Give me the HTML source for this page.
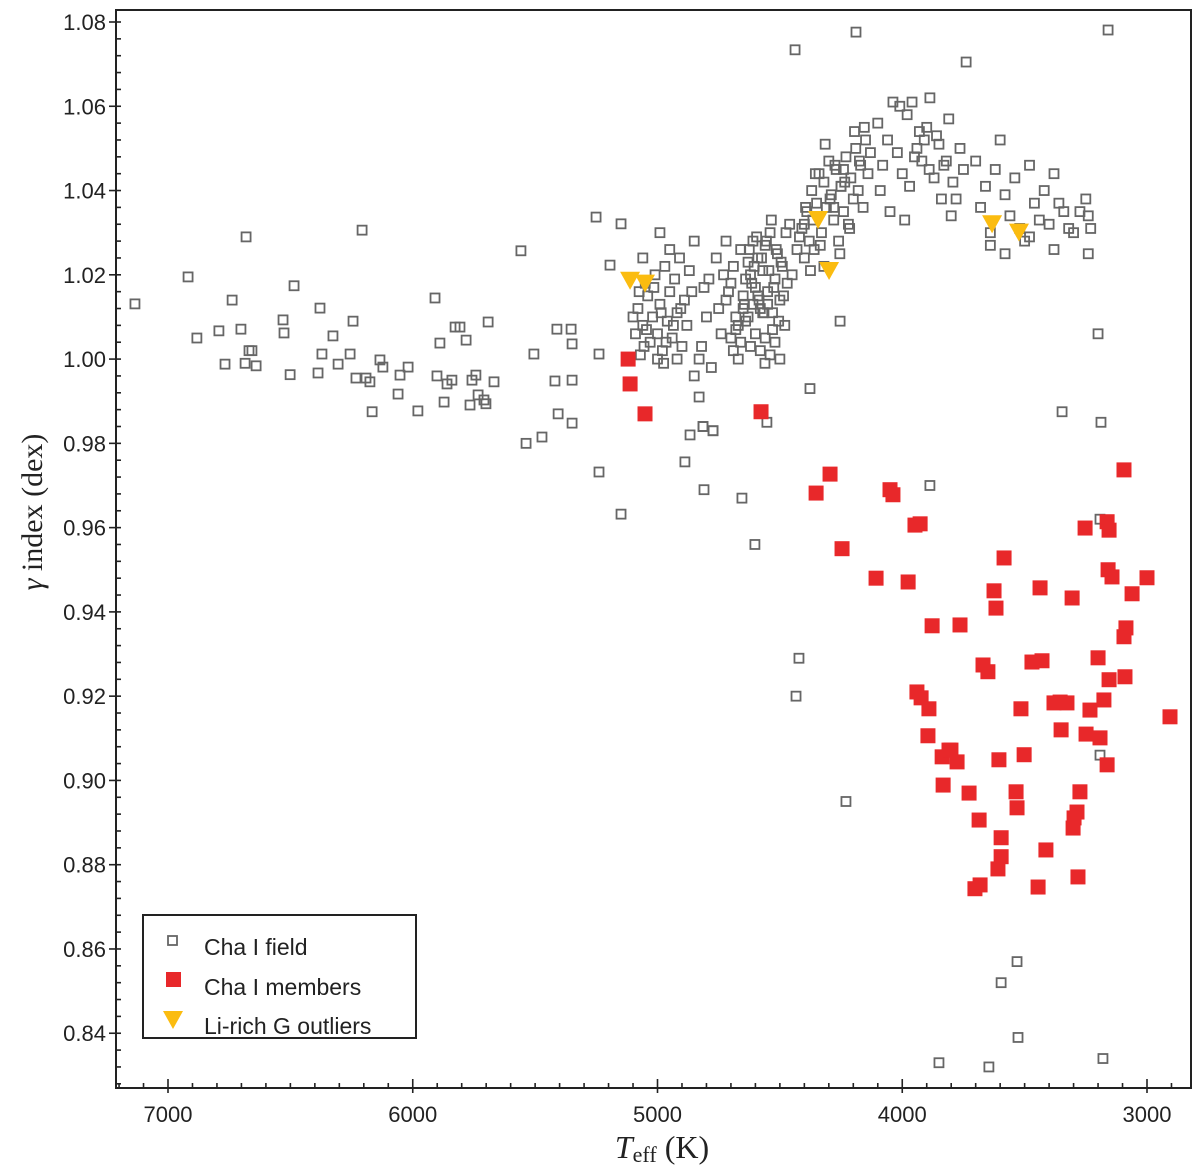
<!DOCTYPE html>
<html><head><meta charset="utf-8">
<style>
html,body{margin:0;padding:0;background:#fff;}
svg{display:block;}
text{font-family:"Liberation Sans",sans-serif;}
</style></head>
<body>
<svg id="chart" width="1200" height="1172" viewBox="0 0 1200 1172"></svg>
<script>
// ---- data ----
const fieldTeff = [7135,6918,6882,6792,6738,6767,6702,6685,6681,6669,6657,6640,6530,6526,6501,6485,6387,6379,6371,6326,6305,6256,6244,6232,6207,6191,6166,6175,6134,6122,6060,6052,6019,5979,5909,5901,5889,5872,5860,5840,5827,5807,5782,5766,5758,5742,5733,5709,5692,5701,5668,5558,5537,5505,5472,5419,5411,5406,5353,5349,5349,5349,5239,5251,5239,5149,5149,5194,
5080,5060,5040,5030,5020,5000,4990,4980,4960,4950,4940,4920,4900,4890,5070,5050,5010,4970,4930,4910,4880,4860,5090,5000,4975,4920,4850,4870,4950,4990,5060,5100,5045,5015,4985,4965,4935,4905,5075,5055,
4800,4820,4830,4780,4850,4830,4814,4773,4720,4700,4690,4680,4660,4650,4640,4630,4620,4610,4600,4590,4580,4570,4560,4550,4540,4530,4520,4510,4500,4490,4480,4470,4460,4750,4740,4730,4710,4670,4645,4625,4615,4605,4595,4585,4575,4565,4555,4545,4535,4525,4515,4505,4495,4485,4475,4700,4680,4660,4640,4620,4600,4580,4560,4540,4520,4500,4650,4630,4610,4590,4570,4550,4530,4760,4790,4810,4720,4690,4670,
4450,4430,4410,4400,4390,4380,4370,4365,4350,4340,4330,4320,4310,4300,4290,4280,4270,4260,4250,4240,4230,4220,4210,4200,4190,4180,4170,4160,4150,4140,4130,4420,4395,4375,4355,4335,4315,4295,4275,4255,4235,4215,4195,4175,4155,4400,4360,4320,4280,4240,
4100,4080,4060,4038,4020,4000,3980,3960,3940,3920,3900,3887,3870,3850,3830,3810,3793,3780,3764,3750,4090,4050,4010,3970,3930,3890,3860,3840,3820,3800,3990,3950,3910,
3700,3680,3660,3640,3620,3600,3580,3560,3540,3520,3500,3480,3460,3440,3420,3400,3380,3360,3340,3320,3300,3274,3250,3240,3230,3640,3580,3480,3380,
4438,4189,3739,3159,3240,3200,3347,3188,3192,3192,3887,4602,4655,4810,4888,4867,4814,4773,4422,4434,4230,3531,3596,3527,3850,3646,3180,4553,4377,4254,4561,4250];
const fieldGamma = [1.0131,1.0195,1.005,1.0067,1.014,0.9988,1.0071,0.999,1.029,1.002,1.002,0.9984,1.0093,1.0062,0.9963,1.0174,0.9967,1.0121,1.0012,1.0055,0.9988,1.0012,1.009,0.9955,1.0306,0.9955,0.9875,0.9946,0.9998,0.9981,0.9917,0.9962,0.9981,0.9877,1.0145,0.996,1.0038,0.9898,0.9941,0.995,1.0076,1.0076,1.0045,0.9891,0.995,0.9962,0.9915,0.9903,1.0088,0.9894,0.9946,1.0257,0.98,1.0012,0.9815,0.9948,1.0071,0.987,1.0071,0.995,1.0036,0.9848,0.9732,1.0337,1.0012,0.9632,1.0321,1.0223,
1.012,1.008,1.015,1.004,1.010,1.006,1.013,1.002,1.009,1.016,1.005,1.011,1.003,1.014,1.001,1.018,1.020,1.022,1.019,1.024,1.008,1.016,1.006,1.000,0.999,1.000,1.028,1.021,1.026,1.030,1.024,1.010,1.007,1.017,1.011,1.004,1.008,1.012,1.016,1.003,
1.010,1.003,1.000,0.998,0.996,0.991,0.984,0.983,1.014,1.018,1.022,1.010,1.026,1.015,1.019,1.023,1.020,1.028,1.017,1.024,1.012,1.021,1.027,1.016,1.030,1.011,1.019,1.025,1.014,1.022,1.008,1.018,1.032,1.012,1.006,1.020,1.016,1.008,1.013,1.026,1.018,1.022,1.029,1.014,1.024,1.011,1.028,1.021,1.033,1.017,1.026,1.009,1.023,1.015,1.030,1.005,1.007,1.004,1.009,1.003,1.006,1.002,1.005,1.001,1.004,1.000,1.012,1.010,1.013,1.015,1.011,1.013,1.007,1.024,1.019,1.017,1.028,1.002,1.000,
1.020,1.026,1.031,1.024,1.035,1.028,1.040,1.033,1.037,1.044,1.030,1.042,1.036,1.047,1.039,1.033,1.045,1.028,1.041,1.035,1.048,1.032,1.043,1.038,1.050,1.040,1.046,1.036,1.052,1.044,1.049,1.029,1.036,1.021,1.044,1.027,1.051,1.038,1.046,1.025,1.042,1.031,1.054,1.047,1.055,1.032,1.026,1.022,1.036,1.045,
1.056,1.046,1.052,1.061,1.049,1.044,1.058,1.061,1.050,1.047,1.055,1.062,1.043,1.051,1.046,1.057,1.042,1.038,1.050,1.045,1.040,1.035,1.060,1.041,1.054,1.045,1.053,1.038,1.047,1.034,1.033,1.048,1.052,
1.047,1.036,1.041,1.030,1.045,1.052,1.039,1.034,1.043,1.031,1.028,1.046,1.037,1.033,1.040,1.032,1.044,1.037,1.035,1.031,1.030,1.035,1.038,1.034,1.031,1.027,1.025,1.029,1.026,
1.0734,1.0776,1.0705,1.0781,1.025,1.006,0.9875,0.985,0.962,0.906,0.970,0.956,0.967,0.969,0.9756,0.982,0.984,0.983,0.929,0.920,0.895,0.857,0.852,0.839,0.833,0.832,0.834,0.985,0.993,1.009,0.999,1.041];
const memberTeff = [5120,5112,5051,4577,4352,4295,4246,4107,4050,4038,3976,3948,3927,3940,3923,3891,3895,3837,3833,3809,3801,3776,3878,3764,3727,3703,3682,3686,3670,3650,3625,3617,3584,3609,3596,3605,3596,3531,3535,3515,3502,3470,3437,3429,3445,3413,3380,3355,3351,3327,3306,3274,3286,3249,3233,3282,3302,3298,3253,3200,3192,3176,3163,3163,3155,3159,3143,3155,3094,3090,3094,3086,3061,3000,2906];
const memberGamma = [1.0,0.9941,0.987,0.9875,0.9682,0.9727,0.955,0.948,0.969,0.9678,0.9471,0.9606,0.9609,0.921,0.9196,0.917,0.9106,0.9056,0.8989,0.9072,0.9072,0.9044,0.9367,0.9369,0.897,0.8743,0.8752,0.8906,0.9274,0.9258,0.945,0.9409,0.9528,0.879,0.8819,0.9049,0.8864,0.8935,0.8973,0.917,0.9061,0.9281,0.9457,0.9284,0.8747,0.8835,0.9184,0.9186,0.912,0.9184,0.9433,0.8973,0.8925,0.911,0.9167,0.8771,0.8887,0.8911,0.9599,0.9291,0.9101,0.9191,0.9037,0.9614,0.9594,0.95,0.9483,0.9239,0.9737,0.9246,0.9341,0.9362,0.9443,0.9481,0.9151];
const outlierTeff = [5112,5051,4344,4299,3633,3523];
const outlierGamma = [1.0186,1.0179,1.033,1.0209,1.032,1.030];
const xTicks = [7000,6000,5000,4000,3000];
const yTicks = [0.84,0.86,0.88,0.90,0.92,0.94,0.96,0.98,1.00,1.02,1.04,1.06,1.08];
const yTickLabels = ["0.84","0.86","0.88","0.90","0.92","0.94","0.96","0.98","1.00","1.02","1.04","1.06","1.08"];

// ---- scales ----
const L=116,R=1191,T=10,B=1088;
function xs(t){return 168+(7000-t)*0.24475;}
function ys(g){return 22+(1.08-g)*4213.5;}
const NS="http://www.w3.org/2000/svg";
const svg=document.getElementById('chart');
function mk(tag,attrs,parent){const e=document.createElementNS(NS,tag);for(const k in attrs)e.setAttribute(k,attrs[k]);(parent||svg).appendChild(e);return e;}

// frame
const frame=mk('rect',{x:L,y:T,width:R-L,height:B-T,fill:'none',stroke:'#222','stroke-width':2});



// x ticks
const xg=mk('g',{});


for(let t=7200;t>=2800;t-=100){const x=xs(t);if(x<L||x>R)continue;const major=t%1000===0;
  mk('line',{x1:x,x2:x,y1:B,y2:B-(major?9:5),stroke:'#222','stroke-width':1.6},xg);
  mk('line',{x1:x,x2:x,y1:B,y2:B+(major?5:0),stroke:'#222','stroke-width':1.6},xg);}
xTicks.forEach(t=>{const tx=mk('text',{x:xs(t),y:1122,'text-anchor':'middle','font-size':22,fill:'#222'},xg);tx.textContent=t;
  
  });
// y ticks
const yg=mk('g',{});


for(let i=0;i<=70;i++){const g=0.828+i*0.004;const y=ys(g);if(y<T||y>B)continue;const major=Math.abs(((g-0.84)/0.02)-Math.round((g-0.84)/0.02))<1e-6;
  mk('line',{x1:L-(major?7:0),x2:L+(major?5:5),y1:y,y2:y,stroke:'#222','stroke-width':1.6},yg);}
yTicks.forEach((g,i)=>{const tx=mk('text',{x:L-10,y:ys(g)+8,'text-anchor':'end','font-size':22,fill:'#222'},yg);tx.textContent=yTickLabels[i];
  
  });

// axis titles
const yt=mk('text',{x:0,y:0,transform:'translate(42,512) rotate(-90)','text-anchor':'middle','font-size':30,fill:'#222',style:'font-family:"Liberation Serif",serif'});
yt.innerHTML='<tspan font-style="italic">γ</tspan> index (dex)';


const xt=mk('text',{x:662,y:1158,'text-anchor':'middle','font-size':32,fill:'#222',style:'font-family:"Liberation Serif",serif'});
xt.innerHTML='<tspan font-style="italic">T</tspan><tspan font-size="22" dy="4">eff</tspan><tspan dy="-4"> (K)</tspan>';



// field
const fg=mk('g',{});


fieldTeff.forEach((t,i)=>{const r=mk('rect',{x:xs(t)-4.5,y:ys(fieldGamma[i])-4.5,width:9,height:9,fill:'none',stroke:'#666','stroke-width':1.8},fg);
  
  });
// members
const mg=mk('g',{});


memberTeff.forEach((t,i)=>{const r=mk('rect',{x:xs(t)-7.5,y:ys(memberGamma[i])-7.5,width:15,height:15,fill:'#e8282a'},mg);
  
  });
// outliers
const og=mk('g',{});


outlierTeff.forEach((t,i)=>{const x=xs(t),y=ys(outlierGamma[i]);
  const p=mk('polygon',{points:`${x-10},${y-9} ${x+10},${y-9} ${x},${y+9}`,fill:'#fbbc10'},og);
  
  });

// legend
const lg=mk('g',{});


mk('rect',{x:143,y:915,width:273,height:123,fill:'#fff',stroke:'#222','stroke-width':2},lg);
mk('rect',{x:168,y:936,width:9,height:9,fill:'none',stroke:'#666','stroke-width':1.8},lg);
mk('rect',{x:166,y:972,width:15,height:15,fill:'#e8282a'},lg);
mk('polygon',{points:'163,1011 183,1011 173,1029',fill:'#fbbc10'},lg);
[['Cha I field',955],['Cha I members',995],['Li-rich G outliers',1034]].forEach(([s,y])=>{
  const tx=mk('text',{x:204,y:y,'font-size':23,fill:'#222'},lg);tx.textContent=s;
  
  });
</script>
</body></html>
